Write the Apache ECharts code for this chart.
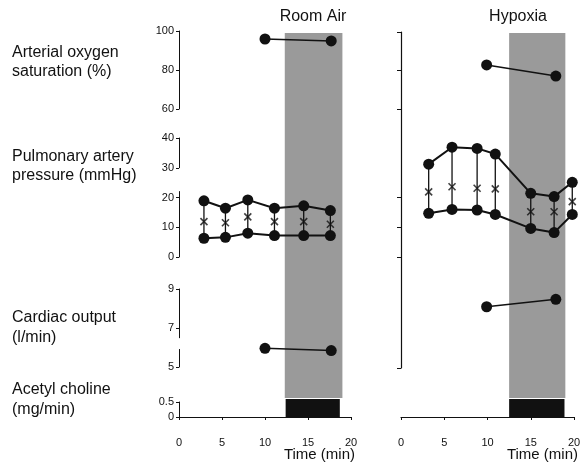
<!DOCTYPE html>
<html>
<head>
<meta charset="utf-8">
<script src="https://cdn.jsdelivr.net/npm/echarts@6/dist/echarts.min.js"></script>
<style>
  html, body { margin: 0; padding: 0; background: #fff; }
  #chart { width: 580px; height: 466px; }
</style>
</head>
<body>
<div id="chart"></div>
<script>
// ---- data ----
var timeTicks = [0, 5, 10, 15, 20];
var satTicks = [100, 80, 60];
var papTicks = [40, 30, 20, 10, 0];
var coTicks = [9, 7, 5];
var achTicks = [0.5, 0];

// Room Air
var satTimeRA = [10, 17.7];
var satRA = [95.9, 94.9];
var papTimeRA = [2.9, 5.4, 8.0, 11.1, 14.5, 17.6];
var papSysRA = [18.9, 16.4, 19.2, 16.4, 17.2, 15.6];
var papMeanRA = [11.9, 11.5, 13.5, 11.9, 11.9, 11.0];
var papDiaRA = [6.3, 6.6, 8.0, 7.2, 7.2, 7.2];
var coTimeRA = [10, 17.7];
var coRA = [5.96, 5.84];
var shadeRA = [12.3, 19.0];
var achBarRA = [12.4, 18.7];

// Hypoxia
var satTimeHX = [9.9, 17.9];
var satHX = [82.6, 76.9];
var papTimeHX = [3.2, 5.9, 8.8, 10.9, 15.0, 17.7, 19.8];
var papSysHX = [31.2, 36.9, 36.5, 34.6, 21.4, 20.3, 25.1];
var papMeanHX = [21.9, 23.6, 23.1, 22.9, 15.2, 15.2, 18.6];
var papDiaHX = [14.7, 16.0, 15.8, 14.3, 9.6, 8.2, 14.3];
var coTimeHX = [9.9, 17.9];
var coHX = [8.09, 8.47];
var shadeHX = [12.5, 19.0];
var achBarHX = [12.5, 18.9];

var achRate = 0.6;

// broken left axis pieces
var papSegments = [[30, 40], [0, 22]];
var coSegments = [[6.5, 9], [5, 5.9]];

// ---- layout ----
var ink = '#111';
var font = 'Liberation Sans, Arial, sans-serif';
var panels = [
  { left: 179, width: 172, title: 'Room Air', titleX: 313 },
  { left: 401, width: 173, title: 'Hypoxia', titleX: 518 }
];
var rows = {
  sat: { top: 31, height: 78, min: 60, max: 100 },
  pap: { top: 138, height: 119, min: 0, max: 40 },
  co: { top: 289, height: 78, min: 5, max: 9 },
  ach: { top: 399, height: 18, min: 0, max: achRate }
};

var grids = [], xAxes = [], yAxes = [], series = [];

function hiddenX() {
  return { type: 'value', min: 0, max: 20, show: false };
}

function addGrid(rect, xAxis, yAxis) {
  var i = grids.length;
  grids.push({ left: rect.left, width: rect.width, top: rect.top, height: rect.height,
    containLabel: false, outerBoundsMode: 'none' });
  xAxis.gridIndex = i;
  yAxis.gridIndex = i;
  xAxes.push(xAxis);
  yAxes.push(yAxis);
  return i;
}

function segRect(panel, row, lo, hi) {
  var span = row.max - row.min;
  return {
    left: panel.left, width: panel.width,
    top: row.top + (row.max - hi) / span * row.height,
    height: (hi - lo) / span * row.height
  };
}

function leftAxis(ticks) {
  return {
    show: true,
    offset: 3,
    axisLine: { show: true, lineStyle: { color: ink, width: 1 } },
    axisTick: { show: true, length: 3, customValues: ticks, lineStyle: { color: ink } },
    axisLabel: {
      show: true, customValues: ticks, margin: 2, color: ink, fontSize: 11, fontFamily: font,
      formatter: function (v) { return String(v); }
    },
    splitLine: { show: false }
  };
}

function valueY(row, extra) {
  var y = { type: 'value', min: row.min, max: row.max, show: false, splitLine: { show: false } };
  return Object.assign(y, extra || {});
}

function pairs(xs, ys) {
  return xs.map(function (x, i) { return [x, ys[i]]; });
}

function lineSeries(g, xs, ys, size, width) {
  return {
    type: 'line', xAxisIndex: g, yAxisIndex: g,
    data: pairs(xs, ys),
    symbol: 'circle', symbolSize: size,
    itemStyle: { color: ink },
    lineStyle: { color: ink, width: width },
    z: 5, animation: false
  };
}

var panelData = [
  { satT: satTimeRA, sat: satRA, papT: papTimeRA, sys: papSysRA, mean: papMeanRA, dia: papDiaRA,
    coT: coTimeRA, co: coRA, shade: shadeRA, bar: achBarRA },
  { satT: satTimeHX, sat: satHX, papT: papTimeHX, sys: papSysHX, mean: papMeanHX, dia: papDiaHX,
    coT: coTimeHX, co: coHX, shade: shadeHX, bar: achBarHX }
];

panels.forEach(function (p, pi) {
  var d = panelData[pi];
  var isLeft = pi === 0;

  // grey shading over the whole column
  var gBg = addGrid({ left: p.left, width: p.width, top: 33, height: 365 }, hiddenX(),
    { type: 'value', min: 0, max: 1, show: false });
  series.push({
    type: 'line', xAxisIndex: gBg, yAxisIndex: gBg, data: [], z: 1,
    markArea: { silent: true, itemStyle: { color: '#9a9a9a' },
      data: [[{ xAxis: d.shade[0] }, { xAxis: d.shade[1] }]] }
  });

  // saturation
  var satY = isLeft ? Object.assign(valueY(rows.sat), leftAxis(satTicks)) :
    valueY(rows.sat, { show: true, axisLine: { show: false }, axisLabel: { show: false },
      axisTick: { show: true, length: 4, customValues: [80, 60], lineStyle: { color: ink } } });
  var gSat = addGrid(Object.assign({ left: p.left, width: p.width }, rows.sat), hiddenX(), satY);
  series.push(lineSeries(gSat, d.satT, d.sat, 11, 1.5));

  // pulmonary artery pressure
  var papY = isLeft ? valueY(rows.pap) :
    valueY(rows.pap, { show: true, axisLine: { show: false }, axisLabel: { show: false },
      axisTick: { show: true, length: 4, customValues: [20, 10, 0], lineStyle: { color: ink } } });
  var gPap = addGrid(Object.assign({ left: p.left, width: p.width }, rows.pap), hiddenX(), papY);
  series.push(lineSeries(gPap, d.papT, d.sys, 11, 2));
  series.push(lineSeries(gPap, d.papT, d.dia, 11, 2));
  series.push({
    type: 'custom', xAxisIndex: gPap, yAxisIndex: gPap, z: 3,
    encode: { x: 0, y: [1, 2] },
    data: d.papT.map(function (t, i) { return [t, d.dia[i], d.sys[i]]; }),
    renderItem: function (params, api) {
      var a = api.coord([api.value(0), api.value(1)]);
      var b = api.coord([api.value(0), api.value(2)]);
      return { type: 'line', shape: { x1: a[0], y1: a[1], x2: b[0], y2: b[1] },
        style: { stroke: ink, lineWidth: 1.3 } };
    }
  });
  series.push({
    type: 'scatter', xAxisIndex: gPap, yAxisIndex: gPap, z: 6,
    data: pairs(d.papT, d.mean),
    symbol: 'path://M0,0L10,10M0,10L10,0', symbolSize: 7,
    itemStyle: { color: 'rgba(0,0,0,0)', borderColor: ink, borderWidth: 1.6 }
  });

  // cardiac output
  var gCo = addGrid(Object.assign({ left: p.left, width: p.width }, rows.co), hiddenX(), valueY(rows.co));
  series.push(lineSeries(gCo, d.coT, d.co, 11, 1.5));

  // acetyl choline infusion + time axis
  var gAch = addGrid(Object.assign({ left: p.left, width: p.width }, rows.ach), {
    type: 'value', min: 0, max: 20, interval: 5, position: 'bottom', offset: 16,
    axisLine: { show: true, lineStyle: { color: ink, width: 1.2 } },
    axisTick: { show: true, length: 3, lineStyle: { color: ink } },
    axisLabel: { show: true, color: ink, fontSize: 11, fontFamily: font, margin: 4,
      customValues: timeTicks },
    splitLine: { show: false }
  }, valueY(rows.ach));
  series.push({
    type: 'line', xAxisIndex: gAch, yAxisIndex: gAch, data: [], z: 2,
    markArea: { silent: true, itemStyle: { color: ink },
      data: [[{ xAxis: d.bar[0], yAxis: 0 }, { xAxis: d.bar[1], yAxis: achRate }]] }
  });

  if (isLeft) {
    // left axis pieces with their breaks
    papSegments.forEach(function (s) {
      addGrid(segRect(p, rows.pap, s[0], s[1]), hiddenX(),
        Object.assign({ type: 'value', min: s[0], max: s[1] },
          leftAxis(papTicks.filter(function (v) { return v >= s[0] && v <= s[1]; }))));
    });
    coSegments.forEach(function (s) {
      addGrid(segRect(p, rows.co, s[0], s[1]), hiddenX(),
        Object.assign({ type: 'value', min: s[0], max: s[1] },
          leftAxis(coTicks.filter(function (v) { return v >= s[0] && v <= s[1]; }))));
    });
    addGrid(segRect(p, rows.ach, 0, 0.5), hiddenX(),
      Object.assign({ type: 'value', min: 0, max: 0.5 }, leftAxis(achTicks)));
  } else {
    // one continuous spine on the hypoxia side
    addGrid({ left: p.left, width: p.width, top: 32, height: 336 }, hiddenX(), {
      type: 'value', min: 0, max: 1, show: true,
      axisLine: { show: true, lineStyle: { color: ink, width: 1.2 } },
      axisTick: { show: true, length: 4, customValues: [0, 1], lineStyle: { color: ink } },
      axisLabel: { show: false }, splitLine: { show: false }
    });
  }
});

var labelStyle = { color: ink, fontSize: 16, fontFamily: font, fontWeight: 'normal', lineHeight: 19 };
var titles = [
  { text: 'Arterial oxygen\nsaturation (%)', left: 12, top: 43, textStyle: labelStyle },
  { text: 'Pulmonary artery\npressure (mmHg)', left: 12, top: 147, textStyle: labelStyle },
  { text: 'Cardiac output\n(l/min)', left: 12, top: 308, textStyle: Object.assign({}, labelStyle, { lineHeight: 20 }) },
  { text: 'Acetyl choline\n(mg/min)', left: 12, top: 380, textStyle: Object.assign({}, labelStyle, { lineHeight: 20 }) }
];
panels.forEach(function (p) {
  titles.push({ text: p.title, left: p.titleX, top: 9, textAlign: 'center',
    textStyle: { color: ink, fontSize: 16, fontFamily: font, fontWeight: 'normal' } });
  titles.push({ text: 'Time (min)', left: p.left + p.width + 4, top: 447, textAlign: 'right',
    textStyle: { color: ink, fontSize: 15, fontFamily: font, fontWeight: 'normal' } });
});
titles.forEach(function (t) { t.padding = 0; });

var chart = echarts.init(document.getElementById('chart'));
chart.setOption({
  animation: false,
  backgroundColor: '#fff',
  title: titles,
  grid: grids,
  xAxis: xAxes,
  yAxis: yAxes,
  series: series
});
</script>
</body>
</html>
